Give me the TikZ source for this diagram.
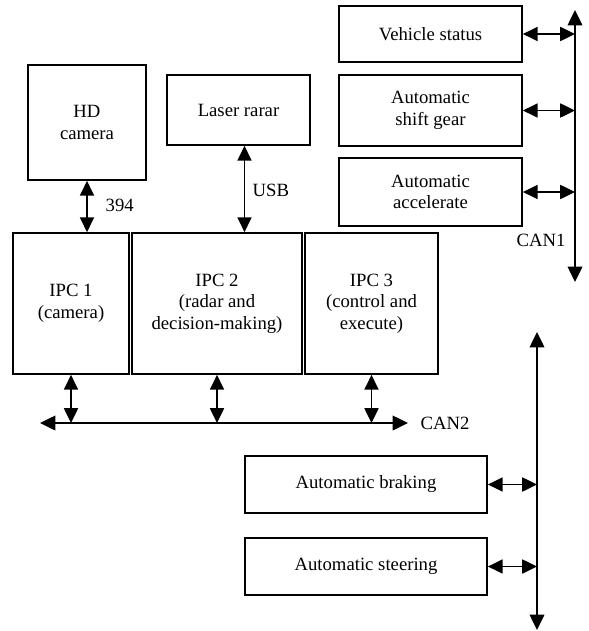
\documentclass[tikz,border=0pt]{standalone}
\usepackage{fontspec}
\setmainfont{Liberation Serif}
\usepackage{tikz}
\usetikzlibrary{arrows.meta}
\tikzset{
unit box/.style = { rectangle, draw = black, fill = white, line width = 1.2pt, align = center, inner sep = 2pt },
bus/.style = { line width = 1.1pt, {Triangle[length = 11pt, width = 10.5pt]}-{Triangle[length = 11pt, width = 10.5pt]} },
link/.style = { line width = 1.1pt, {Triangle[length = 10.5pt, width = 10pt]}-{Triangle[length = 10.5pt, width = 10pt]} },
bus label/.style = { black, draw = none, fill = none, inner sep = 1pt },
}
\begin{document}
\begin{tikzpicture}[x = 0.025cm, y = -0.025cm, font = \fontsize{13.3}{15.3}\selectfont]
    \useasboundingbox (0, 0) rectangle (589, 631);
    % sensors
    \node[unit box, minimum width = 2.95cm, minimum height = 2.875cm] (hd) at (87, 122.5) {HD\\camera};
    \node[unit box, minimum width = 3.575cm, minimum height = 1.75cm] (laser) at (238.5, 110) {Laser rarar};
    % CAN1 units
    \node[unit box, minimum width = 4.575cm, minimum height = 1.4cm] (status) at (430.5, 34) {Vehicle status};
    \node[unit box, minimum width = 4.575cm, minimum height = 1.775cm] (gear) at (430.5, 110.5) {Automatic\\shift gear};
    \node[unit box, minimum width = 4.575cm, minimum height = 1.7cm] (accel) at (430.5, 192) {Automatic\\accelerate};
    % industrial computers
    \node[unit box, minimum width = 2.9cm, minimum height = 3.525cm] (ipc1) at (71, 303.5) {IPC 1\\(camera)};
    \node[unit box, minimum width = 4.25cm, minimum height = 3.525cm] (ipc2) at (217, 303.5) {IPC 2\\(radar and\\decision-making)};
    \node[unit box, minimum width = 3.325cm, minimum height = 3.525cm] (ipc3) at (371.5, 303.5) {IPC 3\\(control and\\execute)};
    % CAN2 units
    \node[unit box, minimum width = 6.05cm, minimum height = 1.425cm] (brake) at (366, 484.5) {Automatic braking};
    \node[unit box, minimum width = 6.05cm, minimum height = 1.425cm] (steer) at (366, 566.5) {Automatic steering};
    % buses
    \coordinate (can1 top) at (575, 10);
    \coordinate (can1 bot) at (575, 282);
    \coordinate (can2 l) at (40, 423);
    \coordinate (can2 r) at (408, 423);
    \coordinate (bus top) at (537, 332);
    \coordinate (bus bot) at (537, 630);
    \draw[bus] (can1 top) -- (can1 bot);
    \draw[bus] (can2 l) -- (can2 r);
    \draw[bus] (bus top) -- (bus bot);
    % links
    \draw[link] (hd.south) -- (hd.south |- ipc1.north);
    \draw[link] ([xshift = 0.15cm]laser.south) -- ([xshift = 0.15cm]laser.south |- ipc2.north);
    \draw[link] (status.east) -- (status.east -| can1 top);
    \draw[link] (gear.east) -- (gear.east -| can1 top);
    \draw[link] (accel.east) -- (accel.east -| can1 top);
    \draw[link] (ipc1.south) -- (ipc1.south |- can2 l);
    \draw[link] (ipc2.south) -- (ipc2.south |- can2 l);
    \draw[link] (ipc3.south) -- (ipc3.south |- can2 l);
    \draw[link] (brake.east) -- (brake.east -| bus top);
    \draw[link] (steer.east) -- (steer.east -| bus top);
    % labels
    \node[bus label, anchor = west] (l394) at (104, 205) {394};
    \node[bus label, anchor = west] (lusb) at (251, 190) {USB};
    \node[bus label] (lcan1) at (541, 240) {CAN1};
    \node[bus label, anchor = west] (lcan2) at (419, 423) {CAN2};
\end{tikzpicture}
\end{document}
